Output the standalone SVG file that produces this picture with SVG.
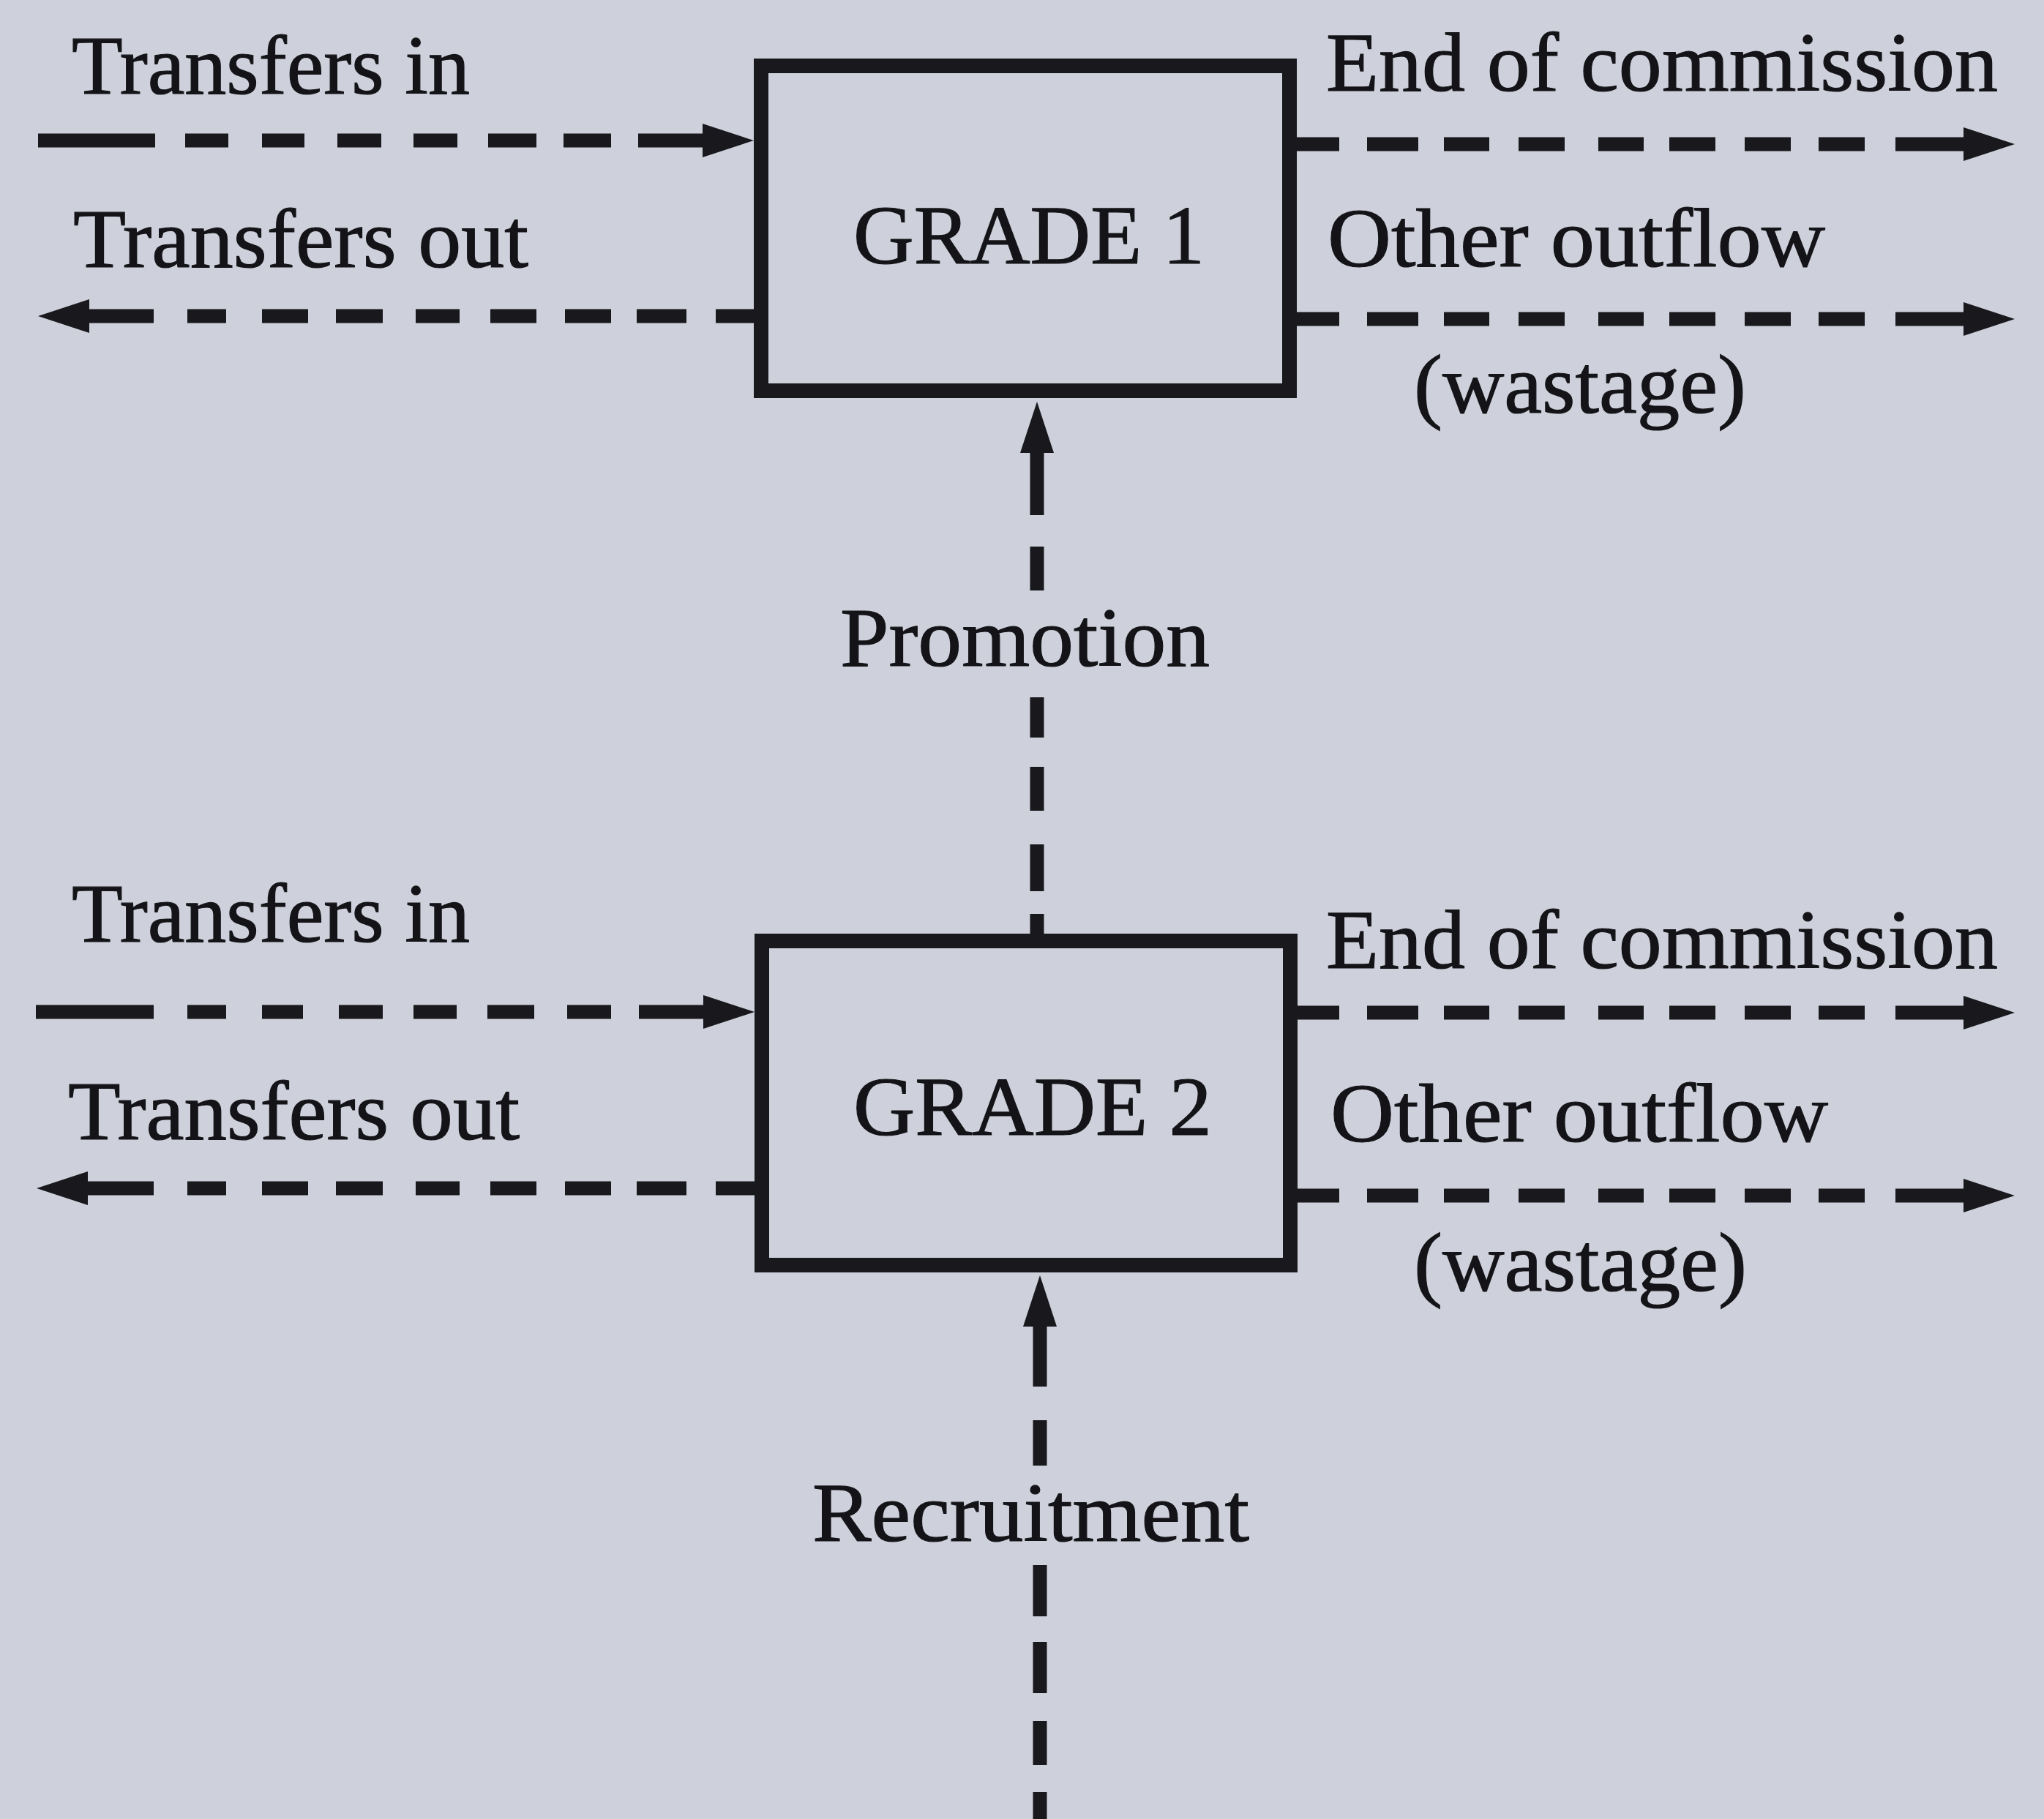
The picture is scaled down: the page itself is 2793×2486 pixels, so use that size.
<svg xmlns="http://www.w3.org/2000/svg" width="2793" height="2486" viewBox="0 0 2793 2486">
<style>
.bg{fill:#ced1db}
.box{fill:none;stroke:#18181d;stroke-width:20}
.flow{fill:none;stroke:#18181d;stroke-width:19;stroke-linecap:butt}
.lbl{font-family:"Liberation Serif","Times New Roman",serif;font-size:114px;fill:#141418;stroke:#141418;stroke-width:1.2}
</style>
<defs>
<marker id="head" markerUnits="userSpaceOnUse" markerWidth="74" markerHeight="48" refX="10" refY="23" orient="auto" overflow="visible">
<path d="M0,0 L70,23 L0,46 z" fill="#18181d"/>
</marker>
</defs>
<rect class="bg" x="0" y="0" width="2793" height="2486"/>

<g id="connectors">
<path id="g1-transfers-in" class="flow" marker-end="url(#head)" d="M52 192 H212 M253 192 H312 M358 192 H416 M461 192 H521 M565 192 H625 M667 192 H733 M770 192 H835 M872 192 H970"/>
<path id="g1-transfers-out" class="flow" marker-end="url(#head)" d="M1031 432 H978 M938 432 H870 M835 432 H772 M733 432 H670 M628 432 H568 M523 432 H459 M421 432 H358 M309 432 H256 M210 432 H112"/>
<path id="g1-end-commission" class="flow" marker-end="url(#head)" d="M1770 197 H1830 M1868 197 H1938 M1973 197 H2035 M2075 197 H2138 M2184 197 H2246 M2281 197 H2344 M2384 197 H2447 M2485 197 H2548 M2590 197 H2693"/>
<path id="g1-other-outflow" class="flow" marker-end="url(#head)" d="M1770 436 H1830 M1868 436 H1938 M1973 436 H2035 M2075 436 H2138 M2184 436 H2246 M2281 436 H2344 M2384 436 H2447 M2485 436 H2548 M2590 436 H2693"/>
<path id="promotion" class="flow" marker-end="url(#head)" d="M1417 1292 V1249 M1417 1218 V1154 M1417 1108 V1048 M1417 1008 V953 M1417 807 V747 M1417 704 V609"/>
<path id="g2-transfers-in" class="flow" marker-end="url(#head)" d="M49 1383 H210 M256 1383 H309 M358 1383 H414 M463 1383 H523 M565 1383 H624 M666 1383 H730 M775 1383 H835 M873 1383 H971"/>
<path id="g2-transfers-out" class="flow" marker-end="url(#head)" d="M1033 1624 H978 M938 1624 H870 M835 1624 H772 M733 1624 H670 M628 1624 H568 M523 1624 H459 M421 1624 H358 M309 1624 H256 M210 1624 H110"/>
<path id="g2-end-commission" class="flow" marker-end="url(#head)" d="M1772 1384 H1830 M1868 1384 H1938 M1973 1384 H2035 M2075 1384 H2138 M2184 1384 H2246 M2281 1384 H2344 M2384 1384 H2447 M2485 1384 H2548 M2590 1384 H2693"/>
<path id="g2-other-outflow" class="flow" marker-end="url(#head)" d="M1772 1634 H1830 M1868 1634 H1938 M1973 1634 H2035 M2075 1634 H2138 M2184 1634 H2246 M2281 1634 H2344 M2384 1634 H2447 M2485 1634 H2548 M2590 1634 H2693"/>
<path id="recruitment" class="flow" marker-end="url(#head)" d="M1421 2486 V2449 M1421 2412 V2352 M1421 2314 V2244 M1421 2209 V2139 M1421 2003 V1941 M1421 1895 V1803"/>
</g>

<g id="grade1">
<rect class="box" x="1040" y="90" width="722" height="444"/>
<text class="lbl" x="1166" y="360" textLength="480" lengthAdjust="spacingAndGlyphs">GRADE 1</text>
</g>
<g id="grade2">
<rect class="box" x="1041" y="1286" width="722" height="443"/>
<text class="lbl" x="1166" y="1551" textLength="490" lengthAdjust="spacingAndGlyphs">GRADE 2</text>
</g>

<g id="labels">
<text class="lbl" x="98" y="128" textLength="544" lengthAdjust="spacingAndGlyphs">Transfers in</text>
<text class="lbl" x="100" y="365" textLength="622" lengthAdjust="spacingAndGlyphs">Transfers out</text>
<text class="lbl" x="1812" y="124" textLength="918" lengthAdjust="spacingAndGlyphs">End of commission</text>
<text class="lbl" x="1814" y="364" textLength="680" lengthAdjust="spacingAndGlyphs">Other outflow</text>
<text class="lbl" x="1932" y="564" textLength="454" lengthAdjust="spacingAndGlyphs">(wastage)</text>
<text class="lbl" x="1148" y="910" textLength="505" lengthAdjust="spacingAndGlyphs">Promotion</text>
<text class="lbl" x="98" y="1287" textLength="544" lengthAdjust="spacingAndGlyphs">Transfers in</text>
<text class="lbl" x="93" y="1557" textLength="617" lengthAdjust="spacingAndGlyphs">Transfers out</text>
<text class="lbl" x="1812" y="1323" textLength="918" lengthAdjust="spacingAndGlyphs">End of commission</text>
<text class="lbl" x="1818" y="1560" textLength="680" lengthAdjust="spacingAndGlyphs">Other outflow</text>
<text class="lbl" x="1932" y="1764" textLength="455" lengthAdjust="spacingAndGlyphs">(wastage)</text>
<text class="lbl" x="1110" y="2106" textLength="597" lengthAdjust="spacingAndGlyphs">Recruitment</text>
</g>
</svg>
